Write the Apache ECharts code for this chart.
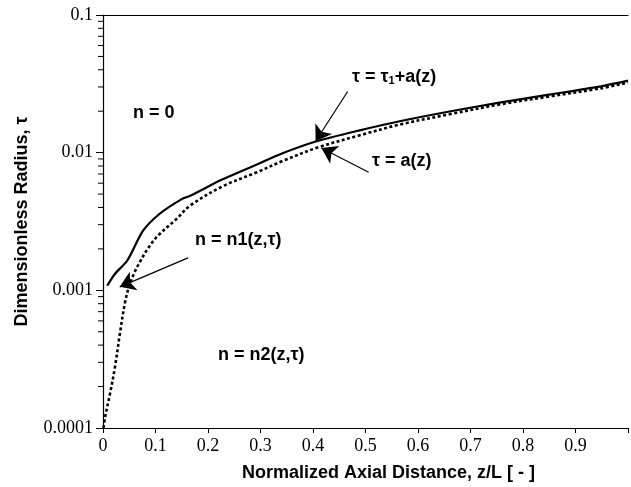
<!DOCTYPE html>
<html>
<head>
<meta charset="utf-8">
<script src="https://cdn.jsdelivr.net/npm/echarts@6/dist/echarts.min.js"></script>
<style>
  html, body { margin: 0; padding: 0; background: #fff; }
  #chart { width: 631px; height: 487px; }
</style>
</head>
<body>
<div id="chart"></div>
<script>
(function() {
  'use strict';

  // tau = tau1 + a(z)  (solid)
  var solidZ   = [0.008, 0.023, 0.046, 0.076, 0.108, 0.15, 0.165, 0.228, 0.293, 0.342, 0.407, 0.489, 0.565, 0.66, 0.755, 0.85, 0.945, 1.0];
  var solidTau = [0.00108, 0.00132, 0.00164, 0.0027, 0.0036, 0.0046, 0.00484, 0.0064, 0.0082, 0.0099, 0.0121, 0.01452, 0.0169, 0.0199, 0.0231, 0.0264, 0.0302, 0.0334];

  // tau = a(z)  (dotted)
  var dotZ   = [0.001, 0.004, 0.013, 0.023, 0.032, 0.042, 0.05, 0.06, 0.07, 0.085, 0.105, 0.14, 0.165, 0.228, 0.293, 0.342, 0.412, 0.489, 0.565, 0.66, 0.755, 0.85, 0.945, 1.0];
  var dotTau = [0.0001, 0.00012, 0.000175, 0.00028, 0.00048, 0.00082, 0.00108, 0.00135, 0.0016, 0.002, 0.0025, 0.0033, 0.0041, 0.0057, 0.0072, 0.0087, 0.011, 0.01336, 0.016, 0.019, 0.0224, 0.0256, 0.0292, 0.0323];

  var xTickLabels = ['0', '0.1', '0.2', '0.3', '0.4', '0.5', '0.6', '0.7', '0.8', '0.9', ''];
  var yTickLabels = ['0.0001', '0.001', '0.01', '0.1'];
  var yMinorTicks = [];
  [0.0001, 0.001, 0.01].forEach(function(d) {
    for (var k = 2; k <= 9; k++) yMinorTicks.push(+(d * k).toPrecision(3));
  });

  // arrows: [from, to] in data coordinates
  var arrowSolid = [[0.466, 0.0278], [0.405, 0.0121]];
  var arrowDot   = [[0.506, 0.0072], [0.416, 0.0108]];
  var arrowN1    = [[0.162, 0.00172], [0.032, 0.00106]];

  function pairs(xs, ys) {
    return xs.map(function(x, i) { return [x, ys[i]]; });
  }
  function arrow(a) {
    return [{ coord: a[0] }, { coord: a[1] }];
  }

  var sans = '"Liberation Sans", Arial, sans-serif';
  var serif = '"Liberation Serif", "Times New Roman", serif';
  var annot = { fontFamily: sans, fontWeight: 'bold', fontSize: 18, fill: '#000' };

  var chart = echarts.init(document.getElementById('chart'), null, { renderer: 'canvas' });

  chart.setOption({
    animation: false,
    backgroundColor: '#fff',
    grid: { left: 103, right: 0, top: 15, bottom: 57 },
    xAxis: [{
      type: 'value',
      min: 0, max: 1, interval: 0.1,
      name: 'Normalized Axial Distance, z/L [ - ]',
      nameLocation: 'middle',
      nameGap: 36,
      nameTextStyle: { fontFamily: sans, fontWeight: 'bold', fontSize: 18, color: '#000', padding: [0, 0, 0, 46] },
      axisLine: { show: true, onZero: false, lineStyle: { color: '#000', width: 1.2 } },
      axisTick: { show: true, length: 5, lineStyle: { color: '#000', width: 1 } },
      axisLabel: {
        margin: 9, fontFamily: serif, fontSize: 18, color: '#000',
        formatter: function(v) { return xTickLabels[Math.round(v * 10)]; }
      },
      splitLine: { show: false }
    }, {
      type: 'value', position: 'top', min: 0, max: 1,
      axisLine: { show: true, onZero: false, lineStyle: { color: '#000', width: 1.2 } },
      axisTick: { show: false }, axisLabel: { show: false }, splitLine: { show: false }
    }],
    yAxis: {
      type: 'log', logBase: 10,
      min: 0.0001, max: 0.1,
      name: 'Dimensionless Radius, τ',
      nameLocation: 'middle',
      nameGap: 72,
      nameTextStyle: { fontFamily: sans, fontWeight: 'bold', fontSize: 18, color: '#000' },
      axisLine: { show: true, onZero: false, lineStyle: { color: '#000', width: 1.2 } },
      axisTick: { show: true, length: 7, lineStyle: { color: '#000', width: 1 } },
      axisLabel: {
        margin: 10, fontFamily: serif, fontSize: 18, color: '#000',
        formatter: function(v) { return yTickLabels[Math.round(Math.log10(v)) + 4]; }
      },
      splitLine: { show: false }
    },
    series: [{
      name: 'tau1 + a(z)',
      type: 'line',
      data: pairs(solidZ, solidTau),
      showSymbol: false,
      smooth: 0.25,
      lineStyle: { color: '#000', width: 2.2 },
      markLine: {
        silent: true,
        symbol: ['none', 'arrow'],
        symbolSize: 15,
        label: { show: false },
        lineStyle: { color: '#000', width: 1.2, type: 'solid' },
        itemStyle: { color: '#000' },
        data: [arrow(arrowSolid), arrow(arrowDot), arrow(arrowN1)]
      }
    }, {
      name: 'a(z)',
      type: 'line',
      data: pairs(dotZ, dotTau),
      showSymbol: false,
      smooth: 0.35,
      lineStyle: { color: '#000', width: 2.6, type: [3, 2.5] }
    }, {
      name: 'minor ticks',
      type: 'custom',
      silent: true,
      data: yMinorTicks.map(function(v) { return [0, v]; }),
      renderItem: function(params, api) {
        var p = api.coord([0, api.value(1)]);
        return {
          type: 'line',
          shape: { x1: p[0] - 5, y1: p[1], x2: p[0], y2: p[1] },
          style: { stroke: '#000', lineWidth: 1 }
        };
      }
    }],
    graphic: [
      { type: 'text', left: 133, top: 104, style: Object.assign({ text: 'n = 0' }, annot) },
      { type: 'text', left: 352, top: 68, style: Object.assign({
          text: '{t|τ = τ}{s|1}{t|+a(z)}',
          rich: {
            t: { fontFamily: sans, fontWeight: 'bold', fontSize: 18, fill: '#000' },
            s: { fontFamily: sans, fontWeight: 'bold', fontSize: 11, fill: '#000', padding: [8, 0, 0, 0] }
          }
        }, annot) },
      { type: 'text', left: 372, top: 152, style: Object.assign({ text: 'τ = a(z)' }, annot) },
      { type: 'text', left: 195, top: 231, style: Object.assign({ text: 'n = n1(z,τ)' }, annot) },
      { type: 'text', left: 218, top: 346, style: Object.assign({ text: 'n = n2(z,τ)' }, annot) }
    ]
  });

  window.addEventListener('resize', function() {
    chart && chart.resize();
  });
})();
</script>
</body>
</html>
